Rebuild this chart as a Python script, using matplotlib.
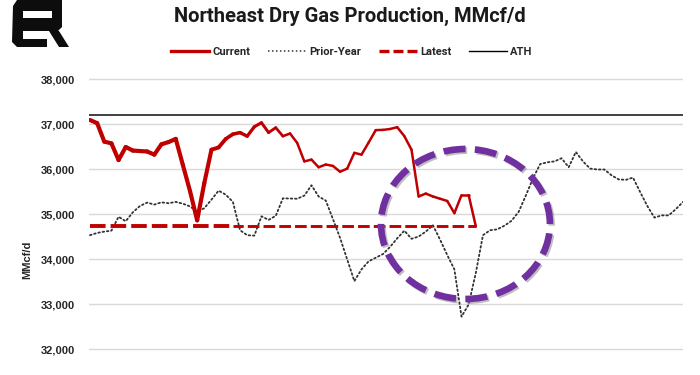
import numpy as np
import matplotlib
matplotlib.use("Agg")
import matplotlib.pyplot as plt
from matplotlib.patches import Ellipse, Polygon
from matplotlib.lines import Line2D
from matplotlib.collections import LineCollection
import matplotlib.patheffects as pe

# ---------------- data ----------------
title = "Northeast Dry Gas Production, MMcf/d"
y_label = "MMcf/d"
series_names = ["Current", "Prior-Year", "Latest", "ATH"]
y_ticks = [32000, 33000, 34000, 35000, 36000, 37000, 38000]

current = [37100, 37030, 36620, 36580, 36210, 36500, 36420, 36410, 36400, 36330,
           36560, 36610, 36680, 36100, 35520, 34870, 35700, 36440, 36490, 36680,
           36785, 36820, 36740, 36950, 37040, 36820, 36930, 36740, 36800, 36590,
           36180, 36220, 36050, 36110, 36080, 35950, 36020, 36370, 36330, 36600,
           36875, 36880, 36900, 36940, 36740, 36440, 35400, 35465, 35400, 35350,
           35300, 35030, 35430, 35430, 34740]

prior_year = [34540, 34590, 34620, 34640, 34950, 34850, 35050, 35190, 35265, 35220,
              35270, 35250, 35280, 35240, 35180, 35060, 35140, 35330, 35530, 35440,
              35280, 34650, 34540, 34530, 34960, 34880, 34970, 35360, 35355, 35350,
              35420, 35650, 35400, 35310, 34900, 34480, 34000, 33520, 33780, 33960,
              34040, 34120, 34280, 34470, 34640, 34460, 34510, 34620, 34760, 34440,
              34100, 33780, 32730, 33000, 33700, 34540, 34650, 34670, 34750, 34860,
              35060, 35420, 35800, 36120, 36160, 36180, 36250, 36050, 36390, 36180,
              36020, 36000, 36000, 35870, 35780, 35770, 35820, 35500, 35190, 34930,
              34980, 34980, 35120, 35280]

latest = 34740
ath = 37200

# ---------------- styles ----------------
RED = "#C00000"
DARK = "#404040"
PURPLE = "#7030A0"
GRID = "#D9D9D9"
TXT = "#262626"

W, H = 700, 375
fig = plt.figure(figsize=(7, 3.75), dpi=100)

ax = fig.add_axes([89 / W, 0, 594 / W, (H - 77.25) / H])
ax.set_xlim(-0.14, 83)
ax.set_ylim(31433, 38050)
for s in ax.spines.values():
    s.set_visible(False)
ax.set_xticks([])
ax.set_yticks(y_ticks)
ax.set_yticklabels([f"{v:,}" for v in y_ticks])
ax.tick_params(axis="y", length=0, pad=10, labelsize=8, colors=TXT)
for lab in ax.get_yticklabels():
    lab.set_fontfamily("Liberation Sans")
    lab.set_fontweight("bold")
ax.yaxis.grid(True, color=GRID, lw=1.0)
ax.set_axisbelow(True)

x_cur = np.arange(len(current))
x_pri = np.arange(len(prior_year))

# ATH
ax.axhline(ath, color=DARK, lw=1.4, zorder=2)

# prior year dotted
ax.plot(x_pri, prior_year, color="#333333", lw=1.3, linestyle=(0, (0.9, 1.5)),
        dash_capstyle="round", zorder=3)

# latest dashed (thicker on the left like the reference)
split = 20
ax.plot([0, split], [latest, latest], color=RED, lw=2.8, linestyle=(0, (4, 1.3)), zorder=4)
ax.plot([split, len(current) - 1], [latest, latest], color=RED, lw=2.1,
        linestyle=(0.5, (4, 1.4)), zorder=4)

# current line with varying width
pts = np.column_stack([x_cur, current])
segs = [pts[i:i + 2] for i in range(len(pts) - 1)]
widths = np.interp(np.arange(len(segs)) + 0.5, [0, 16, 28, 60], [3.0, 3.0, 1.8, 1.8])
lc = LineCollection(segs, colors=RED, linewidths=widths, capstyle="round",
                    joinstyle="round", zorder=5)
ax.add_collection(lc)

# purple dashed highlight ellipse
ell = Ellipse((52.55, 34789), 23.65, 3333, fill=False, edgecolor=PURPLE, lw=4.8,
              linestyle=(0, (3.3, 1.4)), zorder=6)
ell.set_path_effects([pe.SimpleLineShadow(offset=(1.2, -1.2), shadow_color="#808080", alpha=0.5),
                      pe.Normal()])
ax.add_patch(ell)

# legend
handles = [
    Line2D([], [], color=RED, lw=2.4),
    Line2D([], [], color="#333333", lw=1.1, linestyle=(0, (1, 1.6))),
    Line2D([], [], color=RED, lw=2.4, linestyle=(0, (3, 1.2))),
    Line2D([], [], color="#000000", lw=1.0),
]
leg = fig.legend(handles, series_names, loc="center", bbox_to_anchor=(352 / W, 1 - 52 / H),
                 ncol=4, frameon=False, handlelength=3.4, handletextpad=0.3,
                 columnspacing=1.6, borderpad=0,
                 prop={"family": "Roboto", "weight": "bold", "size": 8})
for t in leg.get_texts():
    t.set_color(TXT)

# title & y label
fig.text(350 / W, 1 - 16 / H, title, ha="center", va="center", fontsize=14.5,
         fontweight="bold", family="Roboto", color="#1a1a1a")
fig.text(27 / W, 1 - 260 / H, y_label, ha="center", va="center", rotation=90,
         fontsize=8, fontweight="bold", family="Liberation Sans", color=TXT)

# logo (simple geometric approximation)
lax = fig.add_axes([0, 1 - 60 / H, 80 / W, 60 / H])
lax.set_xlim(0, 80)
lax.set_ylim(60, 0)
lax.axis("off")
logo_shapes = [
    [(13, 6), (17, 0), (62, 0), (62, 11), (23, 11), (23, 39), (47, 39), (47, 47), (17, 47), (12, 42)],
    [(52, 0), (62, 0), (62, 27), (58, 31), (23, 31), (23, 18), (52, 18)],
    [(49, 31), (59, 31), (69, 47), (59, 47)],
]
for shp in logo_shapes:
    lax.add_patch(Polygon(shp, closed=True, facecolor="#0d0d0d", edgecolor="none"))

fig.savefig("out.png", dpi=100)
